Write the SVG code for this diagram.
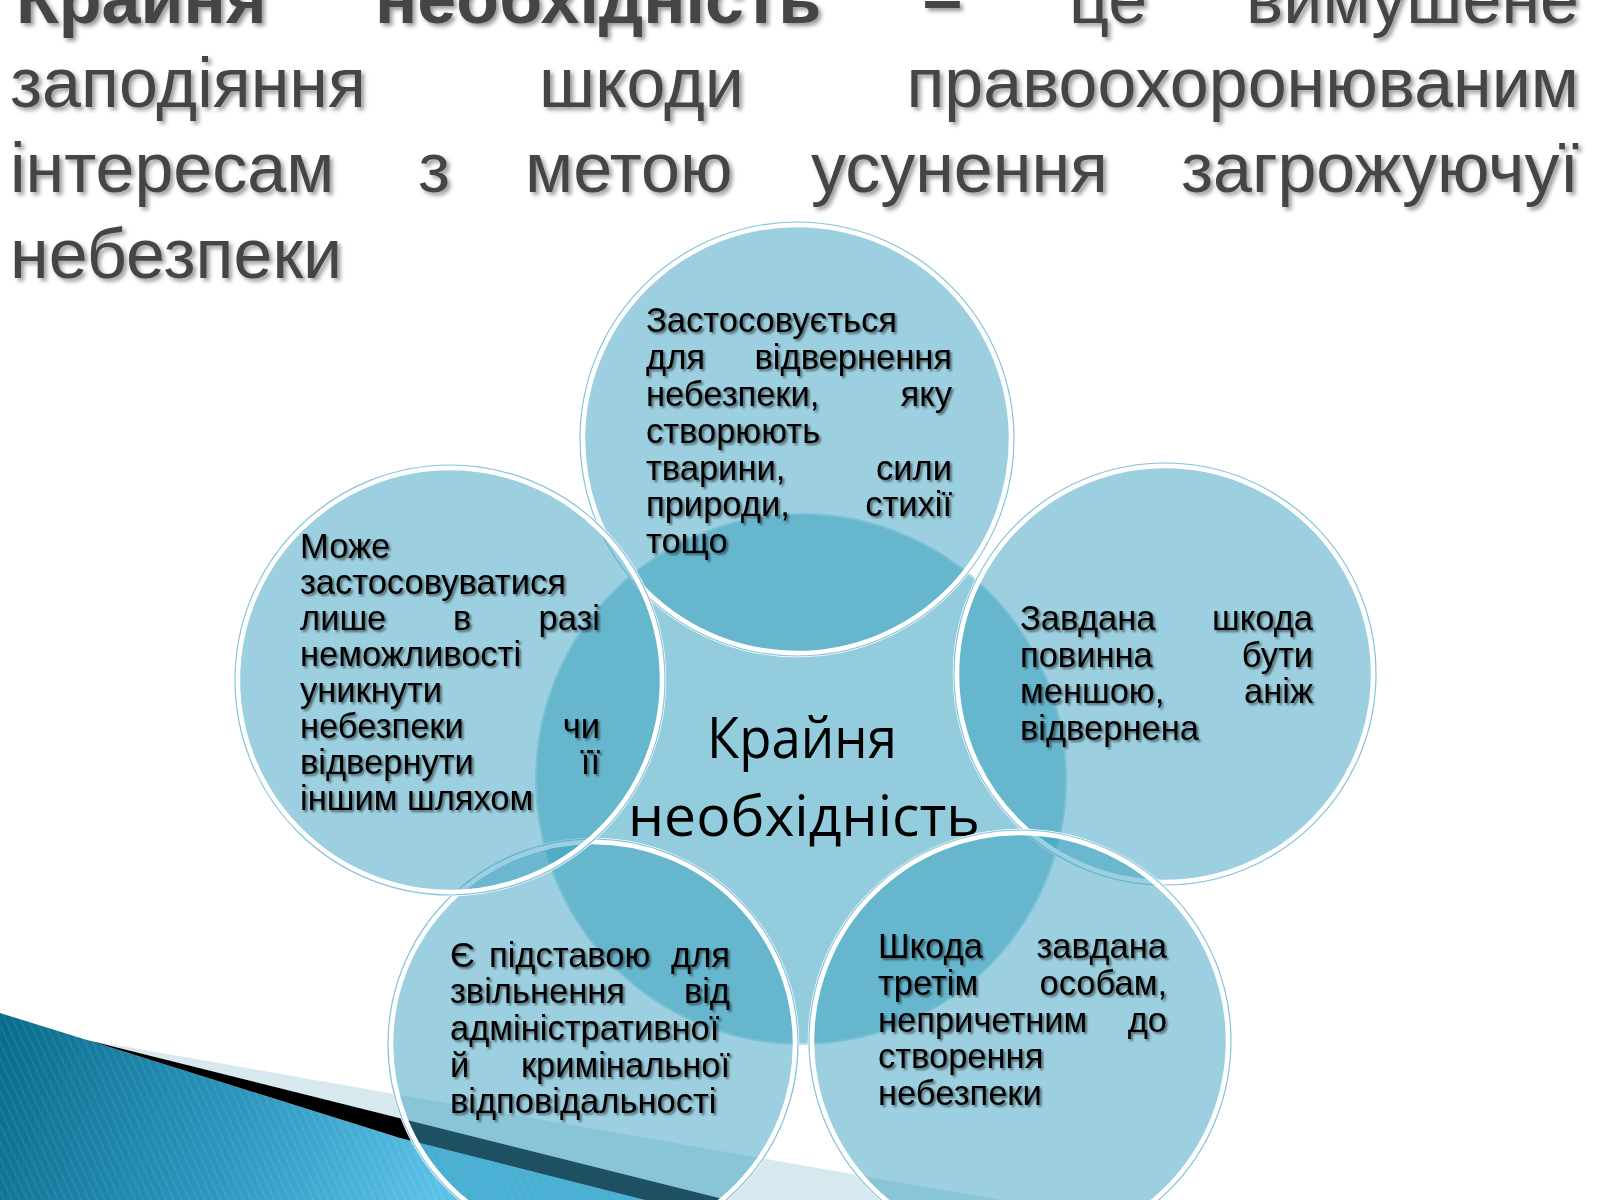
<svg xmlns="http://www.w3.org/2000/svg" width="1600" height="1200" viewBox="0 0 1600 1200">
<defs>
<style>
.t{font-family:"Liberation Sans",Arial,sans-serif;font-size:70px;fill:#454545;filter:url(#tsh)}
.b{font-weight:bold}
.n{font-family:"Liberation Sans",Arial,sans-serif;font-size:34.5px;fill:#000;filter:url(#sh)}
.e{text-anchor:end}
.c{font-family:"Open Sans","Noto Sans",sans-serif;font-size:57px;fill:#000}
.oc{fill:#399FBF;fill-opacity:0.5}
.ring{fill:none;stroke:#fff;stroke-width:6.5}
.ring2{fill:none;stroke:#86C4D7;stroke-width:1.2}
</style>
<filter id="sh" x="-10%" y="-40%" width="120%" height="180%"><feDropShadow dx="2" dy="2" stdDeviation="1.2" flood-color="#000" flood-opacity="0.5"/></filter>
<filter id="tsh" x="-10%" y="-40%" width="120%" height="180%"><feDropShadow dx="3" dy="3" stdDeviation="2" flood-color="#000" flood-opacity="0.4"/></filter>
<linearGradient id="bg" gradientUnits="userSpaceOnUse" x1="0" y1="1040" x2="430" y2="1200">
<stop offset="0" stop-color="#0A6C8C"/><stop offset="0.55" stop-color="#2D97C0"/><stop offset="1" stop-color="#5BC0E6"/>
</linearGradient>
<pattern id="str" width="7" height="7" patternUnits="userSpaceOnUse" patternTransform="rotate(-25)">
<rect x="0" y="0" width="1.2" height="7" fill="#fff" fill-opacity="0.1"/>
</pattern>
</defs>
<rect width="1600" height="1200" fill="#fff"/>
<g id="decor">
<path d="M0,1013 L87,1040 L400,1138 L645,1200 L0,1200 Z" fill="url(#bg)"/>
<path d="M0,1013 L87,1040 L400,1138 L645,1200 L0,1200 Z" fill="url(#str)"/>
<path d="M87,1040 L1000,1200 L727,1200 Z" fill="#D8E8EF"/>
<path d="M87,1040 L727,1200 L645,1200 L400,1138 Z" fill="#000"/>
</g>
<g id="title">
<text class="t b" x="16" y="23">Крайня</text>
<text class="t b" x="375" y="23">необхідність</text>
<text class="t b" x="923" y="23">–</text>
<text class="t" x="1069" y="23">це</text>
<text class="t e" x="1579" y="23">вимушене</text>
<text class="t" x="10" y="107">заподіяння</text>
<text class="t" x="539" y="107">шкоди</text>
<text class="t e" x="1579" y="107">правоохоронюваним</text>
<text class="t" x="10" y="192">інтересам</text>
<text class="t" x="418" y="192">з</text>
<text class="t" x="525" y="192">метою</text>
<text class="t" x="811" y="192">усунення</text>
<text class="t e" x="1579" y="192">загрожуючуї</text>
<text class="t" x="10" y="278">небезпеки</text>
</g>
<g id="center">
<circle cx="801" cy="779" r="265" fill="#93CDDD" stroke="#B8DEEA" stroke-width="2"/>
<text class="c" x="707" y="758" textLength="190" lengthAdjust="spacingAndGlyphs">Крайня</text>
<text class="c" x="628" y="836" textLength="352" lengthAdjust="spacingAndGlyphs">необхідність</text>
</g>
<g id="node-top">
<circle class="oc" cx="797" cy="439" r="217"/>
<circle class="ring" cx="797" cy="439" r="215"/>
<circle class="ring2" cx="797" cy="439" r="217"/>
<text class="n" x="646" y="332">Застосовується</text>
<text class="n" x="646" y="369">для</text><text class="n e" x="952" y="369">відвернення</text>
<text class="n" x="646" y="406">небезпеки,</text><text class="n e" x="952" y="406">яку</text>
<text class="n" x="646" y="443">створюють</text>
<text class="n" x="646" y="480">тварини,</text><text class="n e" x="952" y="480">сили</text>
<text class="n" x="646" y="516">природи,</text><text class="n e" x="952" y="516">стихії</text>
<text class="n" x="646" y="553">тощо</text>
</g>
<g id="node-right">
<circle class="oc" cx="1165" cy="674" r="211"/>
<circle class="ring" cx="1165" cy="674" r="209"/>
<circle class="ring2" cx="1165" cy="674" r="211"/>
<text class="n" x="1020" y="630">Завдана</text><text class="n e" x="1313" y="630">шкода</text>
<text class="n" x="1020" y="667">повинна</text><text class="n e" x="1313" y="667">бути</text>
<text class="n" x="1020" y="703">меншою,</text><text class="n e" x="1313" y="703">аніж</text>
<text class="n" x="1020" y="740">відвернена</text>
</g>
<g id="node-bottom-right">
<circle class="oc" cx="1020" cy="1041" r="211"/>
<circle class="ring" cx="1020" cy="1041" r="209"/>
<circle class="ring2" cx="1020" cy="1041" r="211"/>
<text class="n" x="878" y="958">Шкода</text><text class="n e" x="1167" y="958">завдана</text>
<text class="n" x="878" y="995">третім</text><text class="n e" x="1167" y="995">особам,</text>
<text class="n" x="878" y="1032">непричетним</text><text class="n e" x="1167" y="1032">до</text>
<text class="n" x="878" y="1068">створення</text>
<text class="n" x="878" y="1105">небезпеки</text>
</g>
<g id="node-bottom-left">
<circle class="oc" cx="593" cy="1044" r="205"/>
<circle class="ring" cx="593" cy="1044" r="203"/>
<circle class="ring2" cx="593" cy="1044" r="205"/>
<text class="n" x="450" y="967">Є</text><text class="n" x="489" y="967">підставою</text><text class="n e" x="730" y="967">для</text>
<text class="n" x="450" y="1003">звільнення</text><text class="n e" x="730" y="1003">від</text>
<text class="n" x="450" y="1040">адміністративної</text>
<text class="n" x="450" y="1077">й</text><text class="n e" x="730" y="1077">кримінальної</text>
<text class="n" x="450" y="1113">відповідальності</text>
</g>
<g id="node-left">
<circle class="oc" cx="450" cy="680" r="215"/>
<circle class="ring" cx="450" cy="680" r="213"/>
<circle class="ring2" cx="450" cy="680" r="215"/>
<text class="n" x="300" y="558">Може</text>
<text class="n" x="300" y="594">застосовуватися</text>
<text class="n" x="300" y="630">лише</text><text class="n" x="453" y="630">в</text><text class="n e" x="600" y="630">разі</text>
<text class="n" x="300" y="666">неможливості</text>
<text class="n" x="300" y="702">уникнути</text>
<text class="n" x="300" y="738">небезпеки</text><text class="n e" x="600" y="738">чи</text>
<text class="n" x="300" y="774">відвернути</text><text class="n e" x="600" y="774">її</text>
<text class="n" x="300" y="810">іншим шляхом</text>
</g>
<g id="connectors"/>
</svg>
